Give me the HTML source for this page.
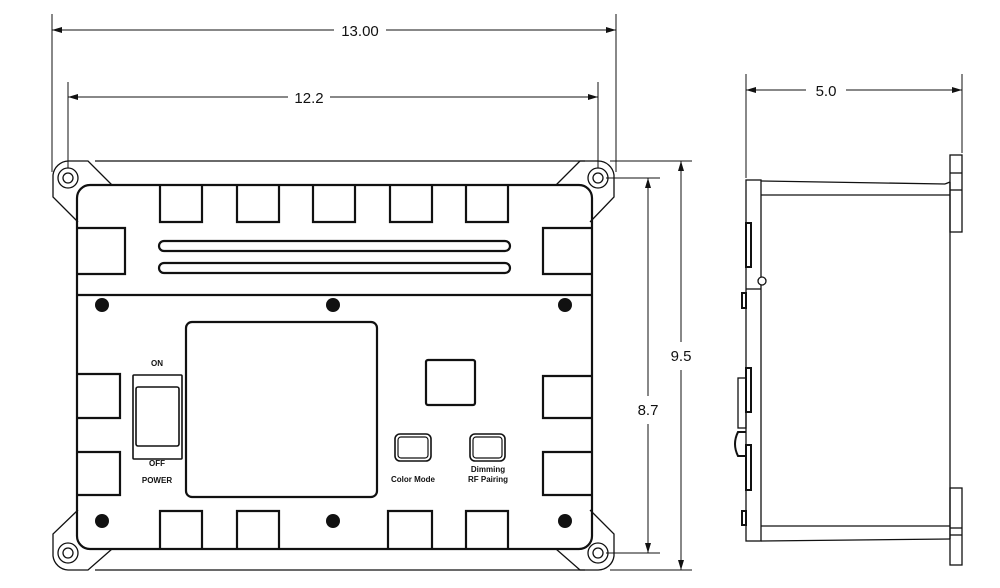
<!DOCTYPE html>
<html><head><meta charset="utf-8"><style>
html,body{margin:0;padding:0;background:#fff;}
svg{display:block;}
text{font-family:"Liberation Sans",sans-serif;fill:#111;}
</style></head><body>
<svg width="1000" height="588" viewBox="0 0 1000 588" xmlns="http://www.w3.org/2000/svg">
<defs>
<marker id="a" viewBox="0 0 10 6" refX="10" refY="3" markerWidth="10" markerHeight="6" orient="auto-start-reverse" markerUnits="userSpaceOnUse"><path d="M0,0 L10,3 L0,6 z" fill="#111"/></marker>
</defs>
<g stroke="#111" fill="none" stroke-width="1">
<!-- dimension 13.00 -->
<line x1="52" y1="14" x2="52" y2="172"/><line x1="616" y1="14" x2="616" y2="172"/>
<line x1="52" y1="30" x2="334" y2="30" marker-start="url(#a)"/><line x1="386" y1="30" x2="616" y2="30" marker-end="url(#a)"/>
<!-- 12.2 -->
<line x1="68" y1="82" x2="68" y2="168"/><line x1="598" y1="82" x2="598" y2="168"/>
<line x1="68" y1="97" x2="288" y2="97" marker-start="url(#a)"/><line x1="330" y1="97" x2="598" y2="97" marker-end="url(#a)"/>
<!-- 5.0 -->
<line x1="746" y1="74" x2="746" y2="178"/><line x1="962" y1="74" x2="962" y2="153"/>
<line x1="746" y1="90" x2="806" y2="90" marker-start="url(#a)"/><line x1="846" y1="90" x2="962" y2="90" marker-end="url(#a)"/>
<!-- 9.5 -->
<line x1="610" y1="161" x2="692" y2="161"/><line x1="610" y1="570" x2="692" y2="570"/>
<line x1="681" y1="161" x2="681" y2="342" marker-start="url(#a)"/><line x1="681" y1="370" x2="681" y2="570" marker-end="url(#a)"/>
<!-- 8.7 -->
<line x1="606" y1="178" x2="660" y2="178"/><line x1="606" y1="553" x2="660" y2="553"/>
<line x1="648" y1="178" x2="648" y2="396" marker-start="url(#a)"/><line x1="648" y1="424" x2="648" y2="553" marker-end="url(#a)"/>
</g>
<text x="360" y="36" font-size="15" text-anchor="middle">13.00</text>
<text x="309" y="103" font-size="15" text-anchor="middle">12.2</text>
<text x="826" y="96" font-size="15" text-anchor="middle">5.0</text>
<text x="681" y="361" font-size="15" text-anchor="middle">9.5</text>
<text x="648" y="415" font-size="15" text-anchor="middle">8.7</text>

<!-- front flange -->
<g stroke="#111" fill="none" stroke-width="1.3">
<path d="M95,161 L585,161"/>
<path d="M95,570 L585,570"/>
<path d="M112,185 L88,161 L68,161 A16,16 0 0 0 53,175 L53,197 L78,222"/>
<path d="M556,185 L580,161 L598,161 A16,16 0 0 1 614,175 L614,197 L590,222"/>
<path d="M112,549 L88,570 L68,570 A16,16 0 0 1 53,556 L53,534 L78,510"/>
<path d="M556,549 L580,570 L598,570 A16,16 0 0 0 614,556 L614,534 L590,510"/>
<circle cx="68" cy="178" r="10"/><circle cx="68" cy="178" r="5"/>
<circle cx="598" cy="178" r="10"/><circle cx="598" cy="178" r="5"/>
<circle cx="68" cy="553" r="10"/><circle cx="68" cy="553" r="5"/>
<circle cx="598" cy="553" r="10"/><circle cx="598" cy="553" r="5"/>
</g>
<g stroke="#111" fill="none" stroke-width="2.2">
<rect x="77" y="185" width="515" height="364" rx="13"/>
<line x1="77" y1="295" x2="592" y2="295"/>
<path d="M160,185 V222 H202 V185 M237,185 V222 H279 V185 M313,185 V222 H355 V185 M390,185 V222 H432 V185 M466,185 V222 H508 V185"/>
<path d="M160,549 V511 H202 V549 M237,549 V511 H279 V549 M388,549 V511 H432 V549 M466,549 V511 H508 V549"/>
<path d="M77,228 H125 V274 H77 M77,374 H120 V418 H77 M77,452 H120 V495 H77"/>
<path d="M592,228 H543 V274 H592 M592,376 H543 V418 H592 M592,452 H543 V495 H592"/>
<rect x="159" y="241" width="351" height="10" rx="5"/>
<rect x="159" y="263" width="351" height="10" rx="5"/>
<rect x="186" y="322" width="191" height="175" rx="6"/>
<rect x="426" y="360" width="49" height="45" rx="2"/>
<rect x="133" y="375" width="49" height="84" rx="1" stroke-width="1.6"/>
<rect x="136" y="387" width="43" height="59" rx="2" stroke-width="1.6"/>
<rect x="395" y="434" width="36" height="27" rx="5" stroke-width="1.6"/>
<rect x="398" y="437" width="30" height="21" rx="3" stroke-width="1.2"/>
<rect x="470" y="434" width="35" height="27" rx="5" stroke-width="1.6"/>
<rect x="473" y="437" width="29" height="21" rx="3" stroke-width="1.2"/>
</g>
<g fill="#111">
<circle cx="102" cy="305" r="7"/><circle cx="333" cy="305" r="7"/><circle cx="565" cy="305" r="7"/>
<circle cx="102" cy="521" r="7"/><circle cx="333" cy="521" r="7"/><circle cx="565" cy="521" r="7"/>
</g>
<g font-size="8" font-weight="bold" text-anchor="middle">
<text x="157" y="366">ON</text>
<text x="157" y="466">OFF</text>
<text x="157" y="483">POWER</text>
<text x="413" y="482">Color  Mode</text>
<text x="488" y="472">Dimming</text>
<text x="488" y="482">RF Pairing</text>
</g>

<!-- side view -->
<g stroke="#111" fill="none" stroke-width="1.3">
<rect x="746" y="180" width="15" height="361"/>
<line x1="761" y1="181" x2="945" y2="184"/><line x1="945" y1="184" x2="950" y2="182"/>
<line x1="761" y1="195" x2="950" y2="195"/>
<line x1="761" y1="526" x2="950" y2="526"/>
<line x1="761" y1="541" x2="950" y2="539"/>
<line x1="950" y1="182" x2="950" y2="539"/>
<rect x="950" y="155" width="12" height="77"/>
<line x1="950" y1="173" x2="962" y2="173"/><line x1="950" y1="190" x2="962" y2="190"/>
<rect x="950" y="488" width="12" height="77"/>
<line x1="950" y1="528" x2="962" y2="528"/><line x1="950" y1="535" x2="962" y2="535"/>
<line x1="746" y1="289" x2="761" y2="289"/>
<circle cx="762" cy="281" r="4" fill="#fff"/>
<rect x="746" y="223" width="5" height="44" stroke-width="2"/>
<rect x="746" y="368" width="5" height="44" stroke-width="2"/>
<rect x="746" y="445" width="5" height="45" stroke-width="2"/>
<rect x="738" y="378" width="8" height="50"/>
<path d="M746,432 H738 Q732,444 738,456 H746" stroke-width="2"/>
<rect x="742" y="293" width="4" height="15" stroke-width="2"/>
<rect x="742" y="511" width="4" height="14" stroke-width="2"/>
</g>
</svg>
</body></html>
